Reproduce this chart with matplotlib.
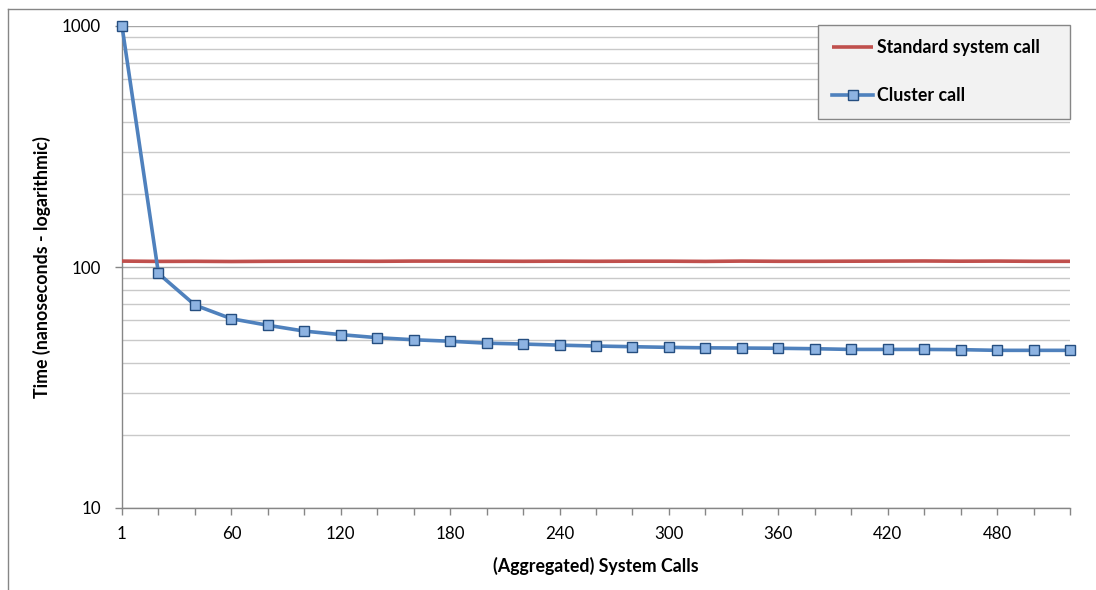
import matplotlib
matplotlib.use("Agg")
import matplotlib.pyplot as plt
from matplotlib.ticker import FixedLocator, NullFormatter
from matplotlib.lines import Line2D

# ---- data ----
calls = [1] + list(range(20, 521, 20))  # aggregated system calls (categories)
standard = [105.8, 105.5, 105.6, 105.4, 105.6, 105.7, 105.7, 105.6, 105.8, 105.8,
            105.7, 105.6, 105.7, 105.6, 105.7, 105.7, 105.5, 105.8, 105.6, 105.6,
            105.7, 105.8, 105.9, 105.7, 105.8, 105.6, 105.6]
cluster = [1000, 94.0, 69.5, 61.0, 57.3, 54.2, 52.4, 50.9, 49.9, 49.2,
           48.3, 47.9, 47.4, 47.0, 46.7, 46.4, 46.2, 46.1, 46.0, 45.8,
           45.5, 45.5, 45.5, 45.4, 45.1, 45.1, 45.1]
tick_labels = ["1", "60", "120", "180", "240", "300", "360", "420", "480"]
y_ticks = [10, 100, 1000]
y_labels = ["10", "100", "1000"]

FONT = "Lato"
plt.rcParams['font.family'] = [FONT, 'DejaVu Sans']
TICK_FS = 12.2
BOLD_FS = 12.8

fig = plt.figure(figsize=(10.96, 5.90), dpi=100)
W, H = 1096, 590
L, R, T, B = 122, 1070, 26, 508
ax = fig.add_axes([L / W, (H - B) / H, (R - L) / W, (B - T) / H])

idx = list(range(len(calls)))
ax.set_yscale('log')
ax.set_ylim(10, 1000)
ax.set_xlim(0, len(calls) - 1)

# gridlines
ax.yaxis.set_minor_locator(FixedLocator([v * d for d in (10, 100) for v in range(2, 10)]))
ax.yaxis.set_minor_formatter(NullFormatter())
ax.grid(True, which='major', axis='y', color='#a6a6a6', linewidth=1.0, zorder=0)
ax.grid(True, which='minor', axis='y', color='#c9c9c9', linewidth=1.0, zorder=0)
ax.tick_params(axis='y', which='minor', length=0)

ax.plot(idx, standard, color='#c0504d', linewidth=2.6, zorder=3,
        label='Standard system call', solid_capstyle='butt')
ax.plot(idx, cluster, color='#4f81bd', linewidth=2.6, marker='s', markersize=7,
        markerfacecolor='#8db3e2', markeredgecolor='#254e80', markeredgewidth=1.0,
        zorder=4, clip_on=False, label='Cluster call')

ax.set_yticks(y_ticks)
ax.set_yticklabels(y_labels)
ax.set_xticks(idx)
labs = []
j = 0
for i in idx:
    if i % 3 == 0 and j < len(tick_labels):
        labs.append(tick_labels[j]); j += 1
    else:
        labs.append("")
ax.set_xticklabels(labs)

for s in ('top', 'right'):
    ax.spines[s].set_visible(False)
for s in ('left', 'bottom'):
    ax.spines[s].set_color('#868686')
    ax.spines[s].set_linewidth(1.0)
ax.tick_params(axis='both', which='major', colors='#868686', labelcolor='black',
               labelsize=TICK_FS, length=5, width=1.0, direction='out')
ax.tick_params(axis='x', pad=8)
ax.tick_params(axis='y', pad=10)

ax.set_xlabel('(Aggregated) System Calls', fontsize=BOLD_FS, fontweight='bold', labelpad=11)
ax.set_ylabel('Time (nanoseconds - logarithmic)', fontsize=BOLD_FS, fontweight='bold', labelpad=8)

leg = ax.legend(loc='upper left', bbox_to_anchor=(818 / W, 1 - 118 / H, 252 / W, 93 / H),
                bbox_transform=fig.transFigure, mode='expand', frameon=True, fancybox=False,
                prop={'weight': 'bold', 'size': BOLD_FS}, handlelength=2.3,
                handletextpad=0.2, labelspacing=1.75, borderpad=0.8,
                borderaxespad=0)
leg.get_frame().set_facecolor('#f2f2f2')
leg.get_frame().set_edgecolor('#868686')
leg.get_frame().set_linewidth(1.0)
leg.get_frame().set_alpha(1)

# partial outer chart border
fig.add_artist(Line2D([8 / W, 8 / W], [0, 1 - 9 / H], transform=fig.transFigure,
                      color='#868686', linewidth=1.0))
fig.add_artist(Line2D([8 / W, 1], [1 - 9 / H, 1 - 9 / H], transform=fig.transFigure,
                      color='#868686', linewidth=1.0))

fig.savefig('out.png', dpi=100, facecolor='white')
